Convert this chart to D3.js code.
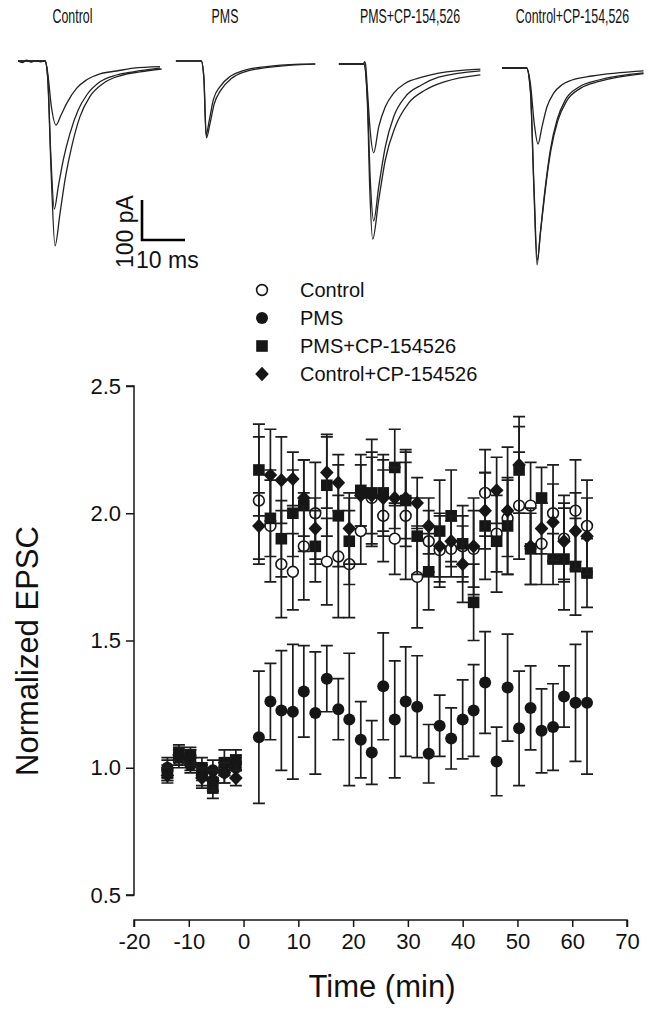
<!DOCTYPE html>
<html><head><meta charset="utf-8">
<script src="https://cdn.jsdelivr.net/npm/d3@7"></script>
<style>body{margin:0;background:#fff}svg{display:block}text{font-family:"Liberation Sans",Arial,sans-serif;fill:#111}</style>
</head><body><svg id="c" width="664" height="1014"></svg>
<script>
// ---------- data ----------
const times = [-13.9,-11.8,-9.7,-7.6,-5.6,-3.5,-1.4,
  2.8,4.9,6.9,9.0,11.0,13.1,15.2,17.3,19.3,21.4,23.4,25.5,27.6,29.6,31.7,33.8,35.8,37.9,40.0,42.0,44.1,46.2,48.2,50.3,52.4,54.4,56.5,58.5,60.6,62.7];
const controlMean = [0.99,1.03,1.02,0.97,0.95,1.00,1.02,
  2.05,1.95,1.80,1.77,1.87,2.00,1.81,1.83,1.80,1.93,2.06,1.99,1.90,1.99,1.75,1.89,1.855,1.86,1.87,1.86,2.08,1.92,1.98,2.03,2.03,1.88,2.00,1.90,2.01,1.95];
const controlSem = [0.04,0.03,0.03,0.04,0.04,0.03,0.03,
  0.25,0.22,0.21,0.15,0.21,0.20,0.17,0.24,0.21,0.13,0.18,0.18,0.14,0.25,0.20,0.12,0.145,0.11,0.12,0.15,0.17,0.15,0.15,0.21,0.17,0.16,0.19,0.17,0.20,0.18];
const pmsMean = [1.00,1.04,1.01,0.98,0.99,0.98,1.00,
  1.12,1.26,1.225,1.22,1.30,1.215,1.35,1.23,1.19,1.11,1.06,1.32,1.19,1.26,1.24,1.055,1.165,1.115,1.19,1.225,1.335,1.025,1.315,1.155,1.235,1.145,1.16,1.28,1.255,1.255];
const pmsSem = [0.04,0.03,0.03,0.03,0.04,0.04,0.04,
  0.26,0.15,0.235,0.265,0.18,0.24,0.13,0.12,0.26,0.15,0.125,0.21,0.23,0.215,0.20,0.115,0.12,0.12,0.155,0.18,0.20,0.135,0.21,0.225,0.165,0.165,0.17,0.12,0.23,0.28];
const pmsCpMean = [0.98,1.06,1.05,1.00,0.92,1.02,1.03,
  2.17,1.98,1.90,2.00,2.03,1.87,2.11,1.99,1.89,2.09,2.08,2.08,2.18,2.05,1.91,1.77,1.93,1.99,1.88,1.65,1.95,1.89,1.95,2.17,1.86,2.06,1.82,1.82,1.79,1.765];
const pmsCpSem = [0.03,0.03,0.03,0.04,0.04,0.05,0.04,
  0.18,0.15,0.15,0.17,0.18,0.14,0.20,0.20,0.17,0.14,0.21,0.15,0.15,0.15,0.15,0.15,0.20,0.18,0.15,0.15,0.21,0.20,0.19,0.17,0.14,0.12,0.10,0.20,0.19,0.135];
const controlCpMean = [0.97,1.05,1.04,0.96,0.95,0.98,0.96,
  1.95,2.15,2.13,2.135,2.06,1.94,2.16,2.12,1.94,2.07,2.07,2.06,2.06,2.06,2.04,1.95,1.87,1.89,1.80,1.87,2.01,2.09,2.01,2.19,1.87,1.94,1.965,1.89,1.93,1.91];
const controlCpSem = [0.03,0.03,0.03,0.04,0.04,0.04,0.03,
  0.13,0.18,0.17,0.105,0.15,0.12,0.14,0.11,0.14,0.12,0.15,0.15,0.12,0.19,0.10,0.11,0.12,0.10,0.15,0.19,0.15,0.13,0.25,0.19,0.15,0.10,0.15,0.15,0.15,0.15];
const seriesNames = ["Control","PMS","PMS+CP-154526","Control+CP-154526"];
const xTicks = [-20,-10,0,10,20,30,40,50,60,70];
const yTicks = [0.5,1.0,1.5,2.0,2.5];

// example EPSC traces: [ms from stimulus, pA]
const panelTitles = ["Control","PMS","PMS+CP-154,526","Control+CP-154,526"];
const traceControl = [
 [[-6.5,0],[-5.5,-4],[-4.5,2],[-3.5,-3],[-2.5,1],[-1.2,-2],[-0.2,0],[0.4,-30],[1.2,-110],[2.33,-160],[3.5,-135],[4.81,-106],[7.14,-68],[9.47,-47],[12.56,-32],[16.44,-25],[20.3,-18],[26.5,-14]],
 [[-6.5,0],[-0.2,0],[0.4,-40],[1.1,-230],[1.93,-370],[2.86,-314],[4.02,-247],[5.58,-181],[7.51,-122],[9.47,-85],[12.56,-52],[16.44,-35],[20.3,-27],[26.5,-18]],
 [[-6.5,0],[-0.2,0],[0.4,-45],[1.2,-280],[2.1,-462],[3.26,-381],[4.42,-297],[5.98,-214],[7.9,-139],[10.2,-89],[13.3,-56],[17.2,-37],[21.9,-27],[26.9,-20]]
];
const tracePms = [
 [[-6,0],[-0.1,0],[0.5,-42],[1.0,-185],[1.77,-148],[2.7,-97],[4.26,-64],[6.58,-39],[9.7,-24],[15.1,-14],[22.9,-8],[26.4,-7]],
 [[-6,0],[-0.1,0],[0.5,-40],[1.1,-192],[1.9,-158],[2.9,-108],[4.5,-72],[6.9,-44],[10,-27],[15.5,-16],[23,-9],[26.4,-8]]
];
const tracePmsCp = [
 [[-6,0],[-0.3,0],[0,6],[0.2,0],[0.6,-60],[1.3,-170],[2.09,-222],[3.26,-157],[4.79,-107],[6.74,-73],[9.44,-48],[13.3,-33],[17.2,-23],[26.9,-13]],
 [[-6,0],[-0.2,0],[0.6,-80],[1.3,-290],[2.09,-392],[3.26,-307],[4.79,-207],[6.74,-132],[9.44,-82],[13.3,-52],[17.2,-33],[26.9,-17]],
 [[-6,0],[-0.2,0],[0.6,-90],[1.2,-320],[1.86,-438],[3.26,-340],[4.79,-240],[7.1,-157],[10.2,-98],[14.1,-65],[18.7,-44],[26.9,-27]]
];
const traceControlCp = [
 [[-5.8,0],[-0.1,0],[0.8,-40],[1.7,-140],[2.56,-190],[3.49,-147],[4.65,-97],[6.2,-63],[8.14,-42],[10.5,-30],[15.1,-20],[27.1,-7]],
 [[-5.8,0],[-0.1,0],[0.8,-60],[1.6,-300],[2.33,-492],[3.09,-413],[4.26,-297],[5.42,-205],[6.98,-130],[8.9,-80],[12.0,-48],[16.7,-30],[27.1,-12]],
 [[-5.8,0],[-0.1,0],[0.8,-55],[1.6,-290],[2.4,-480],[3.2,-405],[4.4,-292],[5.6,-203],[7.2,-131],[9.2,-83],[12.4,-51],[17,-33],[27.1,-14]]
];
const scaleBarPa = 100, scaleBarMs = 10;

// ---------- drawing ----------
const svg = d3.select("#c");
const ink = "#161616";

// traces
const msPx = 4.3, paPx = 0.4;
const panels = [
  {traces: traceControl, x0: 46, y0: 61, title: panelTitles[0], tx: 72.5},
  {traces: tracePms, x0: 201.7, y0: 61, title: panelTitles[1], tx: 225},
  {traces: tracePmsCp, x0: 364.7, y0: 64, title: panelTitles[2], tx: 410},
  {traces: traceControlCp, x0: 527, y0: 68, title: panelTitles[3], tx: 572.5}
];
panels.forEach(p => {
  const tx = d3.scaleLinear().domain([0, 1]).range([p.x0, p.x0 + msPx]);
  const ty = d3.scaleLinear().domain([0, -1]).range([p.y0, p.y0 + paPx]);
  const line = d3.line().x(d => tx(d[0])).y(d => ty(d[1])).curve(d3.curveMonotoneX);
  p.traces.forEach(tr => {
    svg.append("path").attr("d", line(tr)).attr("fill", "none")
      .attr("stroke", "#222").attr("stroke-width", 1.3);
  });
  svg.append("text").attr("transform", `translate(${p.tx},23) scale(0.62,1)`).attr("text-anchor", "middle")
    .attr("font-size", 20).text(p.title);
});
// scale bar
{
  const bx = d3.scaleLinear().domain([0, 1]).range([142, 142 + msPx]);
  const by = d3.scaleLinear().domain([0, 1]).range([240, 240 - paPx]);
  svg.append("path").attr("d", `M${bx(0)},${by(scaleBarPa)}V${by(0)}H${bx(scaleBarMs)}`)
    .attr("fill", "none").attr("stroke", "#000").attr("stroke-width", 2.6);
  svg.append("text").attr("transform", `translate(133,268) rotate(-90)`)
    .attr("font-size", 23).text(scaleBarPa + " pA");
  svg.append("text").attr("x", 136).attr("y", 268).attr("font-size", 23).text(scaleBarMs + " ms");
}

// main plot scales
const x = d3.scaleLinear().domain([-20, 70]).range([134, 627]);
const y = d3.scaleLinear().domain([0.5, 2.5]).range([895, 386]);

// axes
const yAxis = svg.append("g").attr("transform", "translate(134,0)")
  .call(d3.axisLeft(y).tickValues(yTicks).tickFormat(d3.format(".1f")).tickSize(8).tickPadding(5));
const xAxis = svg.append("g").attr("transform", "translate(0,920)")
  .call(d3.axisBottom(x).tickValues(xTicks).tickFormat(d => String(d)).tickSize(7).tickPadding(6));
[yAxis, xAxis].forEach(g => {
  g.select(".domain").attr("stroke", ink).attr("stroke-width", 1.5);
  g.selectAll(".tick line").attr("stroke", ink).attr("stroke-width", 1.5);
  g.selectAll(".tick text").attr("font-size", 22).attr("fill", "#111")
    .attr("font-family", '"Liberation Sans",Arial,sans-serif');
});
yAxis.select(".domain").attr("d", `M-8,${y(2.5)}H0V${y(0.5)}H-8`);
xAxis.select(".domain").attr("d", `M${x(-20)},7V0H${x(70)}V7`);

svg.append("text").attr("transform", `translate(38,651) rotate(-90)`).attr("text-anchor", "middle")
  .attr("font-size", 31).text("Normalized EPSC");
svg.append("text").attr("x", 382).attr("y", 997).attr("text-anchor", "middle")
  .attr("font-size", 31).text("Time (min)");

// data series
const series = [
  {name: seriesNames[0], mean: controlMean, sem: controlSem, shape: "circleOpen"},
  {name: seriesNames[1], mean: pmsMean, sem: pmsSem, shape: "circle"},
  {name: seriesNames[2], mean: pmsCpMean, sem: pmsCpSem, shape: "square"},
  {name: seriesNames[3], mean: controlCpMean, sem: controlCpSem, shape: "diamond"}
];
function marker(g, shape, cx, cy) {
  if (shape === "circleOpen") {
    g.append("circle").attr("cx", cx).attr("cy", cy).attr("r", 5.4)
      .attr("fill", "#fff").attr("stroke", ink).attr("stroke-width", 1.6);
  } else if (shape === "circle") {
    g.append("circle").attr("cx", cx).attr("cy", cy).attr("r", 6).attr("fill", ink);
  } else if (shape === "square") {
    g.append("rect").attr("x", cx - 5.8).attr("y", cy - 5.8).attr("width", 11.6).attr("height", 11.6).attr("fill", ink);
  } else {
    g.append("path").attr("d", `M${cx},${cy - 7.2}L${cx + 6.8},${cy}L${cx},${cy + 7.2}L${cx - 6.8},${cy}Z`).attr("fill", ink);
  }
}
const cap = 6;
series.forEach(s => {
  const g = svg.append("g");
  times.forEach((t, i) => {
    const cx = x(t), hi = y(s.mean[i] + s.sem[i]), lo = y(s.mean[i] - s.sem[i]);
    g.append("path").attr("d", `M${cx},${hi}V${lo}M${cx - cap},${hi}H${cx + cap}M${cx - cap},${lo}H${cx + cap}`)
      .attr("stroke", "#1c1c1c").attr("stroke-width", 1.7).attr("fill", "none");
  });
  times.forEach((t, i) => marker(g, s.shape, x(t), y(s.mean[i])));
});

// legend
series.forEach((s, i) => {
  const ly = 290 + i * 28;
  marker(svg, s.shape, 262, ly);
  svg.append("text").attr("x", 300).attr("y", ly + 7).attr("font-size", 20).text(s.name);
});
</script></body></html>
